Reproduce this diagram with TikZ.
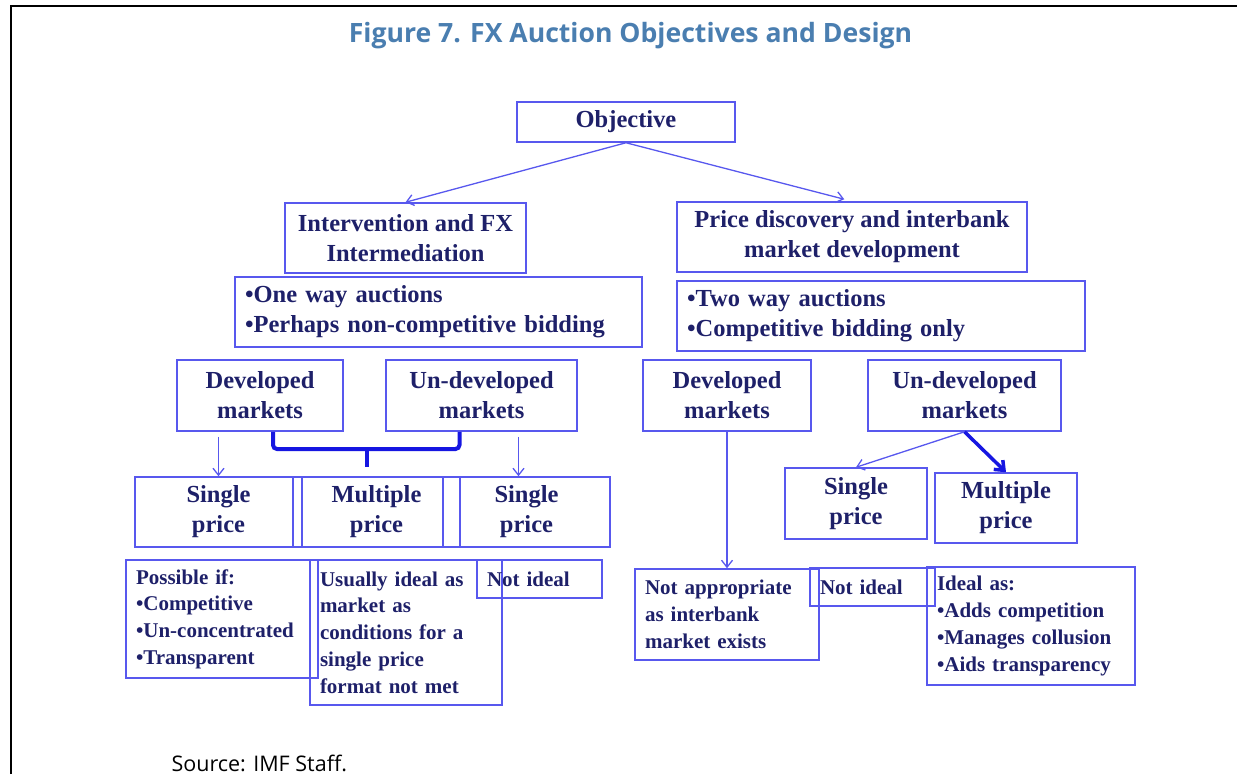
\documentclass[tikz,border=0pt]{standalone}
\usepackage{fontspec}
\setmainfont{Liberation Serif}
\newfontfamily\headfont{Open Sans}
\usetikzlibrary{arrows.meta, positioning}
\definecolor{boxblue}{RGB}{88,88,238}
\definecolor{deepblue}{RGB}{22,22,225}
\definecolor{inkblue}{RGB}{30,32,105}
\definecolor{titleblue}{RGB}{74,126,176}

\begin{document}
\begin{tikzpicture}[
    x=1pt, y=-1pt,
    box/.style={rectangle, draw=boxblue, line width=1.5pt, text=inkblue,
                font=\fontsize{24.5}{30}\selectfont\bfseries,
                align=center, inner sep=0pt},
    note/.style={box, font=\fontsize{21}{26.7}\selectfont\bfseries,
                 align=left, inner xsep=10pt},
    arr/.style={-{Straight Barb[length=7pt,width=11pt]}, draw=boxblue, line width=1.3pt},
    bigarr/.style={-{Straight Barb[length=8pt,width=13pt]}, draw=deepblue, line width=3.5pt},
    brk/.style={draw=deepblue, line width=4pt, rounded corners=4pt}
]
  \useasboundingbox (0,0) rectangle (1237,774);
  \draw[line width=2.5pt] (11,774) -- (11,6) -- (1237,6);

  \node[font=\headfont\bfseries\fontsize{26.6}{30}\selectfont, text=titleblue] (title) at (630.5,36)
    {Figure 7. FX Auction Objectives and Design};

  % top two levels
  \node[box, minimum width=218, minimum height=40] (obj)   at (626,122)   {Objective};
  \node[box, minimum width=241, minimum height=70] (intv)  at (405.5,238) {Intervention and FX\\Intermediation};
  \node[box, minimum width=350, minimum height=70] (price) at (852,237)   {Price discovery and interbank\\market development};
  \node[box, align=left, inner xsep=10pt, text width=387, minimum height=70] (oneway) at (438.5,312)
    {•One way auctions\\•Perhaps non-competitive bidding};
  \node[box, align=left, inner xsep=10pt, text width=388, minimum height=70] (twoway) at (881,316)
    {•Two way auctions\\•Competitive bidding only};

  % market types
  \node[box, minimum width=166, minimum height=71] (devL)   at (260,395.5)   {Developed\\markets};
  \node[box, minimum width=191, minimum height=71] (undevL) at (481.5,395.5) {Un-developed\\markets};
  \node[box, minimum width=168, minimum height=71] (devR)   at (727,395.5)   {Developed\\markets};
  \node[box, minimum width=193, minimum height=71] (undevR) at (964.5,395.5) {Un-developed\\markets};

  % price formats
  \node[box, minimum width=167, minimum height=70] (sglA)  at (218.5,512) {Single\\price};
  \node[box, minimum width=167, minimum height=70] (multi) at (376.5,512) {Multiple\\price};
  \node[box, minimum width=167, minimum height=70] (sglB)  at (526.5,512) {Single\\price};
  \node[box, minimum width=142, minimum height=71] (sglR)  at (856,503.5) {Single\\price};
  \node[box, minimum width=142, minimum height=70] (multR) at (1006,508)  {Multiple\\price};

  % remarks
  \node[note, text width=172, minimum height=118] (possible) at (222,619)
    {Possible if:\\•Competitive\\•Un-concentrated\\•Transparent};
  \node[note, text width=172, minimum height=145] (usually) at (406,632.5)
    {Usually ideal as\\market as\\conditions for a\\single price\\format not met};
  \node[note, text width=105, minimum height=38] (notidA) at (539.5,579) {Not ideal};
  \node[note, text width=164, minimum height=91] (notapp) at (727,614.5)
    {Not appropriate\\as interbank\\market exists};
  \node[note, text width=105, minimum height=38] (notidB) at (872.5,587) {Not ideal};
  \node[note, text width=188, minimum height=118] (ideal) at (1031,626)
    {Ideal as:\\•Adds competition\\•Manages collusion\\•Aids transparency};

  \node[font=\headfont\fontsize{21.5}{24}\selectfont, anchor=west] (src) at (168,763) {Source: IMF Staff.};

  % connectors
  \draw[arr] (obj.south) -- (intv.north);
  \draw[arr, shorten >=8pt] (obj.south) -- (price.north);
  \draw[arr, shorten <=5pt] (sglA.north |- devL.south) -- (sglA.north);
  \draw[arr, shorten <=5pt] ([xshift=-8pt]sglB.north |- undevL.south) -- ([xshift=-8pt]sglB.north);
  \coordinate (bj) at (366.5,449);
  \draw[brk] ([xshift=13pt]devL.south) |- (bj) -| ([xshift=-22pt]undevL.south);
  \draw[brk] (bj) -- ([xshift=-10pt,yshift=9pt]multi.north);
  \draw[arr] (devR.south) -- (notapp.north);
  \draw[arr] (undevR.south) -- (sglR.north);
  \draw[bigarr] (undevR.south) -- (multR.north);
\end{tikzpicture}
\end{document}
